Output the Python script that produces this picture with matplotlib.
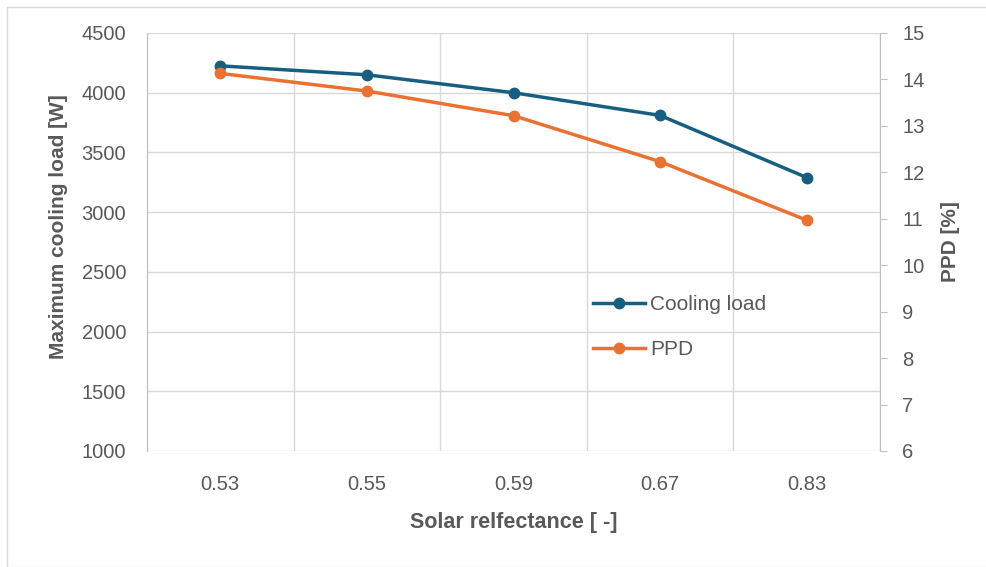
import numpy as np
import matplotlib.pyplot as plt
from matplotlib.patches import Rectangle

# data
reflectance = ["0.53", "0.55", "0.59", "0.67", "0.83"]
cooling_load = [4225, 4150, 4000, 3810, 3290]
ppd = [14.13, 13.75, 13.22, 12.23, 10.97]

blue = "#175f80"
orange = "#e97132"
grey_txt = "#595959"
grid_col = "#d9d9d9"

plt.rcParams['font.family'] = ['Liberation Sans', 'DejaVu Sans']

fig = plt.figure(figsize=(9.87, 5.67), dpi=100)
ax = fig.add_axes([147 / 987, 1 - 451 / 567, (880 - 147) / 987, (451 - 33) / 567])
ax2 = ax.twinx()

x = np.arange(len(reflectance))

l1, = ax.plot(x, cooling_load, color=blue, lw=2.5, marker='o', ms=7.5, label='Cooling load', zorder=3)
l2, = ax2.plot(x, ppd, color=orange, lw=2.5, marker='o', ms=7.5, label='PPD', zorder=3)

ax.set_xlim(-0.5, len(reflectance) - 0.5)
ax.set_ylim(1000, 4500)
ax.set_yticks(np.arange(1000, 4501, 500))
ax2.set_ylim(6, 15)
ax2.set_yticks(np.arange(6, 16, 1))
ax.set_xticks(x)
ax.set_xticklabels(reflectance)

# category gridlines between the points
ax.set_xticks(np.arange(-0.5, len(reflectance), 1), minor=True)
ax.grid(True, which='minor', axis='x', color=grid_col, lw=1)
ax.grid(True, which='major', axis='y', color=grid_col, lw=1)
ax.set_axisbelow(True)

for a in (ax, ax2):
    for s in a.spines.values():
        s.set_visible(False)
ax.spines['left'].set_visible(True)
ax.spines['left'].set_color("#bfbfbf")
ax2.spines['right'].set_visible(True)
ax2.spines['right'].set_color("#bfbfbf")

ax.tick_params(axis='x', which='both', length=0, labelsize=14.5, labelcolor=grey_txt, pad=17)
ax.tick_params(axis='y', length=0, labelsize=14.5, labelcolor=grey_txt, pad=15)
ax2.tick_params(axis='y', length=5, color="#bfbfbf", labelsize=14.5, labelcolor=grey_txt, pad=11)

ax.set_xlabel('Solar relfectance [ -]', fontsize=15.5, fontweight='bold', color=grey_txt, labelpad=13)
ax.set_ylabel('Maximum cooling load [W]', fontsize=15, fontweight='bold', color=grey_txt)
ax.yaxis.set_label_coords(-0.108, 0.536)
ax2.set_ylabel('PPD [%]', fontsize=15, fontweight='bold', color=grey_txt, labelpad=12)

leg = ax.legend(handles=[l1, l2], loc='upper left', bbox_to_anchor=(0.608, 0.373),
                frameon=False, fontsize=15, labelspacing=1.25, handlelength=2.5,
                handletextpad=0.25, borderaxespad=0, borderpad=0)
for t in leg.get_texts():
    t.set_color(grey_txt)

# outer chart border
fig.patches.append(Rectangle((7 / 987, 0), 1, 1 - 7 / 567, transform=fig.transFigure,
                             fill=False, edgecolor="#d9d9d9", lw=1))

fig.savefig("out.png", dpi=100)
